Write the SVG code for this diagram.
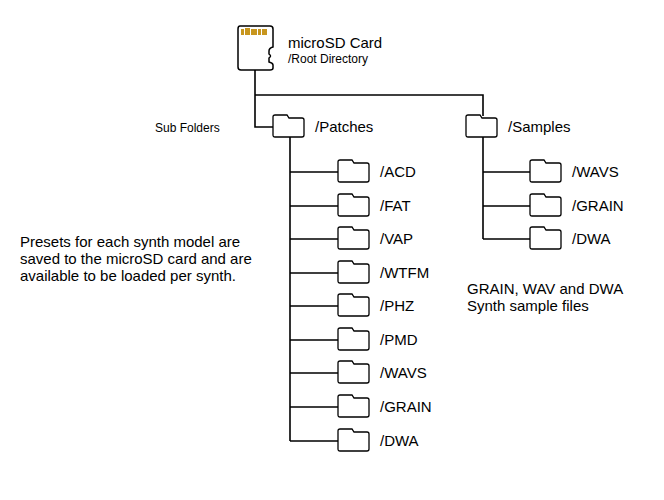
<svg xmlns="http://www.w3.org/2000/svg" width="664" height="500" viewBox="0 0 664 500">
<style>
text{font-family:"Liberation Sans",Arial,sans-serif;fill:#000}
.f{fill:#fff;stroke:#000;stroke-width:1.3}
.l{fill:none;stroke:#000;stroke-width:1.6}
.t{font-size:15px}
</style>
<defs><path id="fd" class="f" d="M0,2 Q0,0 2,0 H14 L16,3 H29 Q31,3 31,5 V20 Q31,22 29,22 H2 Q0,22 0,20 Z"/></defs>
<rect width="664" height="500" fill="#fff"/>
<g id="connectors">
<path class="l" d="M255,70 V127 H273 M255,95 H483 V116 M290,137 V441 M483,137 V239"/>
<path class="l" d="M290,172H338M290,206H338M290,239H338M290,273H338M290,306H338M290,340H338M290,373H338M290,407H338M290,441H338M483,172H530M483,206H530M483,239H530"/>
</g>
<g id="sdcard">
<path fill="#fff" stroke="#000" stroke-width="1.5" d="M240,26 H270 Q273,26 273,29 V47 Q269,48 269,51 V54 Q272,56 269,58 V62 Q273,63 273,65 V68 Q273,70 270,70 H241 Q238,70 238,67 V29 Q238,26 240,26 Z"/>
<g fill="#c8961e"><rect x="241" y="29" width="3" height="6"/><rect x="245" y="28" width="5" height="7"/><rect x="251" y="29" width="6" height="6"/><rect x="258" y="29" width="3" height="6"/><rect x="262" y="29" width="5" height="6"/></g>
<text x="288" y="48" font-size="15">microSD Card</text>
<text x="288" y="63" font-size="12">/Root Directory</text>
</g>
<text x="155" y="132" font-size="12">Sub Folders</text>
<g id="patches"><use href="#fd" x="273" y="115"/><text class="t" x="315" y="132">/Patches</text></g>
<g id="samples"><use href="#fd" x="466" y="115"/><text class="t" x="508" y="132">/Samples</text></g>
<g id="p-acd"><use href="#fd" x="338" y="160"/><text class="t" x="380" y="177">/ACD</text></g>
<g id="p-fat"><use href="#fd" x="338" y="194"/><text class="t" x="380" y="211">/FAT</text></g>
<g id="p-vap"><use href="#fd" x="338" y="227"/><text class="t" x="380" y="244">/VAP</text></g>
<g id="p-wtfm"><use href="#fd" x="338" y="261"/><text class="t" x="380" y="278">/WTFM</text></g>
<g id="p-phz"><use href="#fd" x="338" y="294"/><text class="t" x="380" y="311">/PHZ</text></g>
<g id="p-pmd"><use href="#fd" x="338" y="328"/><text class="t" x="380" y="345">/PMD</text></g>
<g id="p-wavs"><use href="#fd" x="338" y="361"/><text class="t" x="380" y="378">/WAVS</text></g>
<g id="p-grain"><use href="#fd" x="338" y="395"/><text class="t" x="380" y="412">/GRAIN</text></g>
<g id="p-dwa"><use href="#fd" x="338" y="429"/><text class="t" x="380" y="446">/DWA</text></g>
<g id="s-wavs"><use href="#fd" x="530" y="160"/><text class="t" x="572" y="177">/WAVS</text></g>
<g id="s-grain"><use href="#fd" x="530" y="194"/><text class="t" x="572" y="211">/GRAIN</text></g>
<g id="s-dwa"><use href="#fd" x="530" y="227"/><text class="t" x="572" y="244">/DWA</text></g>
<text class="t" x="20" y="247">Presets for each synth model are</text>
<text class="t" x="20" y="264">saved to the microSD card and are</text>
<text class="t" x="20" y="281">available to be loaded per synth.</text>
<text class="t" x="467" y="294">GRAIN, WAV and DWA</text>
<text class="t" x="467" y="311">Synth sample files</text>
</svg>
